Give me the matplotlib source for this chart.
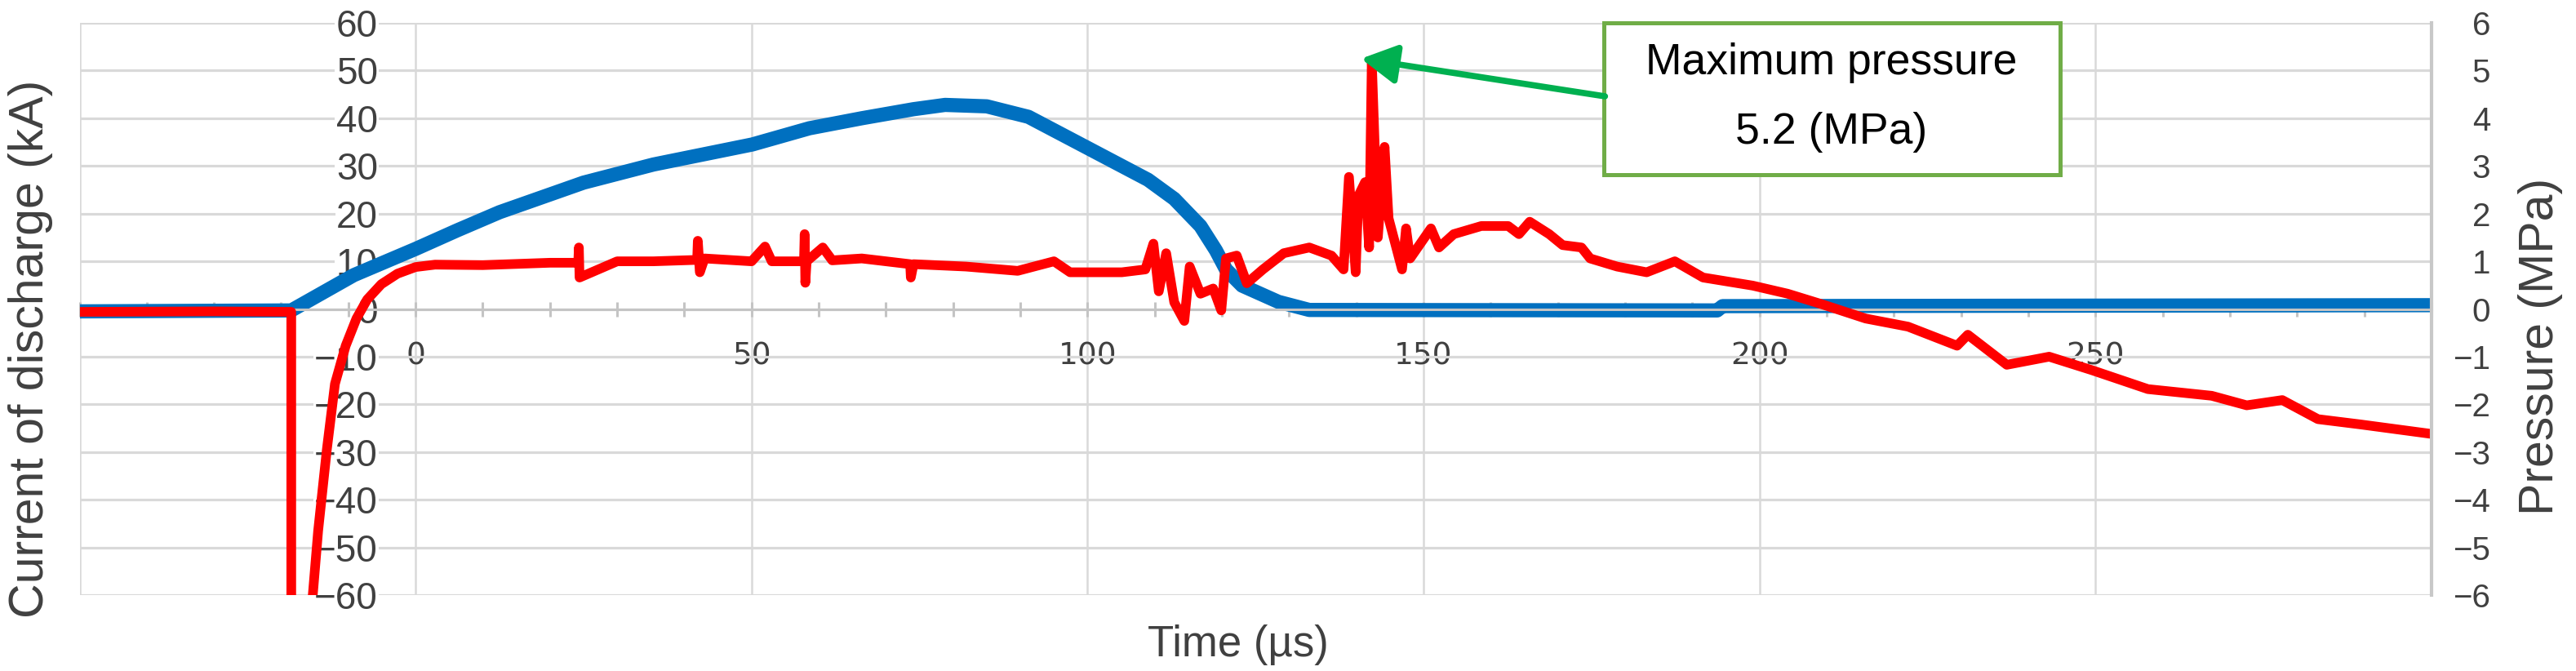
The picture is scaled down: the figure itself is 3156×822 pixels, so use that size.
import matplotlib
matplotlib.use("Agg")
from matplotlib import pyplot as plt
from matplotlib.patches import Rectangle
from matplotlib.ticker import MultipleLocator

plt.rcParams['font.family'] = ['Liberation Sans', 'DejaVu Sans']

# current of discharge (kA) vs time (us)
time_current = [-50, -18.5, -9.2, 0, 6.2, 12.5, 25, 35.4, 50.1, 58.6, 66.4, 74.1, 78.8, 85.0,
                91.2, 99.7, 109.0, 112.9, 116.8, 119.1, 120.6, 123.0, 128.4, 133.0, 193.7, 194.5, 300]
current_ka = [-0.5, -0.3, 7.1, 12.6, 16.5, 20.3, 26.5, 30.3, 34.5, 37.9, 40.0, 41.9, 42.8, 42.5,
              40.3, 34.0, 27.1, 23.1, 17.4, 12.3, 8.3, 4.9, 1.5, -0.2, -0.3, 0.6, 0.8]

# pressure (MPa) vs time (us)
time_pressure = [-50, -30, -18.5, -18.5, -15.6, -15.3, -14.5, -13.2, -12.0, -10.4, -8.8, -7.2, -5.1, -2.7,
                 0, 2.9, 10, 20, 24.2, 24.3, 24.4, 30, 35.4, 41.9, 42.0, 42.3, 43, 50, 52.0, 53,
                 57.8, 57.9, 58.0, 58.2, 60.6, 62, 66.4, 73.6, 73.7, 74.1, 81.9, 89.6, 95.0, 97.4,
                 105.1, 108.6, 109.8, 110.6, 111.7, 112.9, 114.4, 115.2, 116.8, 118.7, 119.9, 120.6,
                 122.2, 123.7, 126.1, 129.2, 133.0, 136.3, 138.1, 138.9, 139.9, 140.3, 141.3, 141.9,
                 142.3, 143.2, 144.2, 144.8, 146.8, 147.4, 148.0, 151.1, 152.3, 154.5, 158.6, 162.6,
                 164.2, 165.8, 168.7, 170.7, 173.5, 174.8, 178.8, 183.2, 187.4, 191.6, 199.0, 204.2,
                 209.5, 215.8, 222.1, 229.4, 231.0, 236.8, 243.1, 249.4, 257.8, 267.3, 272.5, 277.8,
                 283.1, 289.4, 300]
pressure_mpa = [-0.06, -0.05, -0.06, -7, -7, -6.0, -4.65, -2.94, -1.57, -0.77, -0.2, 0.2, 0.52, 0.74,
                0.88, 0.93, 0.92, 0.97, 0.97, 1.29, 0.66, 1.0, 1.0, 1.03, 1.43, 0.77, 1.06, 1.0, 1.31, 1.0,
                1.0, 1.57, 0.55, 1.0, 1.29, 1.02, 1.06, 0.94, 0.66, 0.94, 0.89, 0.80, 1.0, 0.77,
                0.77, 0.83, 1.37, 0.37, 1.17, 0.14, -0.25, 0.89, 0.32, 0.43, -0.03, 1.06,
                1.12, 0.54, 0.83, 1.17, 1.29, 1.12, 0.83, 2.77, 0.77, 2.37, 2.66, 1.29,
                5.2, 1.5, 3.4, 1.9, 0.83, 1.69, 1.06, 1.69, 1.29, 1.57, 1.74, 1.74,
                1.57, 1.83, 1.57, 1.34, 1.29, 1.06, 0.89, 0.77, 1.0, 0.66, 0.49, 0.32,
                0.09, -0.2, -0.37, -0.77, -0.54, -1.17, -1.0, -1.28, -1.68, -1.82, -2.02, -1.91,
                -2.31, -2.42, -2.62]

x_ticks = [-50, 0, 50, 100, 150, 200, 250, 300]
x_labels = ['', '0', '50', '100', '150', '200', '250', '']
left_ticks = [60, 50, 40, 30, 20, 10, 0, -10, -20, -30, -40, -50, -60]
left_labels = ['60', '50', '40', '30', '20', '10', '0', '\u221210', '\u221220', '\u221230', '\u221240', '\u221250', '\u221260']
right_ticks = [6, 5, 4, 3, 2, 1, 0, -1, -2, -3, -4, -5, -6]
right_labels = ['6', '5', '4', '3', '2', '1', '0', '\u22121', '\u22122', '\u22123', '\u22124', '\u22125', '\u22126']

txt = '#404040'
grid = '#d9d9d9'

fig = plt.figure(figsize=(31.56, 8.22), dpi=100)
ax = fig.add_axes([0.0309, 0.1131, 0.9130, 0.8528])
ax2 = ax.twinx()

ax.plot(time_current, current_ka, color='#0070c0', lw=12.5, solid_joinstyle='round')
ax2.plot(time_pressure, pressure_mpa, color='#ff0000', lw=8.5, solid_joinstyle='round')

ax.set_xlim(-50, 300)
ax.set_ylim(-60, 60)
ax2.set_ylim(-6, 6)

# x axis goes through zero current, small cross ticks every 10 us
ax.xaxis.set_minor_locator(MultipleLocator(10))
ax.tick_params(axis='x', which='both', direction='inout', length=13, width=2.2, color='#c4c4c4', pad=22)
ax.set_xticks(x_ticks, x_labels)
ax.tick_params(axis='x', labelsize=27, labelcolor=txt, labelfontfamily='DejaVu Sans')
ax.spines['bottom'].set_position(('data', 0))
ax.spines['bottom'].set_color('#c4c4c4')
ax.spines['bottom'].set_linewidth(2.2)
for s in ['top', 'left', 'right']:
    ax.spines[s].set_visible(False)
ax.xaxis.grid(True, color=grid, lw=1.8)
ax.yaxis.grid(True, color=grid, lw=2.3)

ax.set_yticks(left_ticks, left_labels)
ax.tick_params(axis='y', length=0, pad=-263, labelsize=33, labelcolor=txt)
for lbl in ax.get_yticklabels():
    lbl.set_bbox(dict(facecolor='white', edgecolor='none', pad=1))

ax2.set_yticks(right_ticks, right_labels)
ax2.tick_params(axis='y', length=0, pad=52, labelsize=29, labelcolor=txt)
for lbl in ax2.get_yticklabels():
    lbl.set_horizontalalignment('right')
for s in ['top', 'left', 'bottom']:
    ax2.spines[s].set_visible(False)
ax2.spines['right'].set_color('#c8c8c8')
ax2.spines['right'].set_linewidth(3)

ax.set_xlabel('Time (\u00b5s)', fontsize=38, color=txt)
ax.xaxis.set_label_coords(0.4926, -0.087)
ax.xaxis.label.set_va('center')
ax.set_ylabel('Current of discharge (kA)', fontsize=42.5, color=txt)
ax.yaxis.set_label_coords(-0.0207, 0.431)
ax.yaxis.label.set_va('center')
ax2.set_ylabel('Pressure (MPa)', fontsize=42.5, color=txt, rotation=90)
ax2.yaxis.set_label_coords(1.0465, 0.434)
ax2.yaxis.label.set_va('center')

# callout box with arrow to the pressure peak
ax2.add_patch(Rectangle((176.8, 28.2), 67.9, 31.8, transform=ax.transData, facecolor='white',
                        edgecolor='#70ad47', lw=3.6, clip_on=False, zorder=5))
ax2.text(210.7, 51.6, 'Maximum pressure', transform=ax.transData, fontsize=38.5,
         ha='center', va='center', color='black', zorder=6)
ax2.text(210.7, 37.1, '5.2 (MPa)', transform=ax.transData, fontsize=38.5,
         ha='center', va='center', color='black', zorder=6)
ax2.annotate('', xy=(140.7, 52.5), xycoords=ax.transData, xytext=(177.0, 44.6), textcoords=ax.transData,
             arrowprops=dict(arrowstyle='-|>,head_length=0.4,head_width=0.22', color='#00b050',
                             lw=5.5, mutation_scale=66, shrinkA=0, shrinkB=0), zorder=7)

fig.savefig('out.png', dpi=100)
